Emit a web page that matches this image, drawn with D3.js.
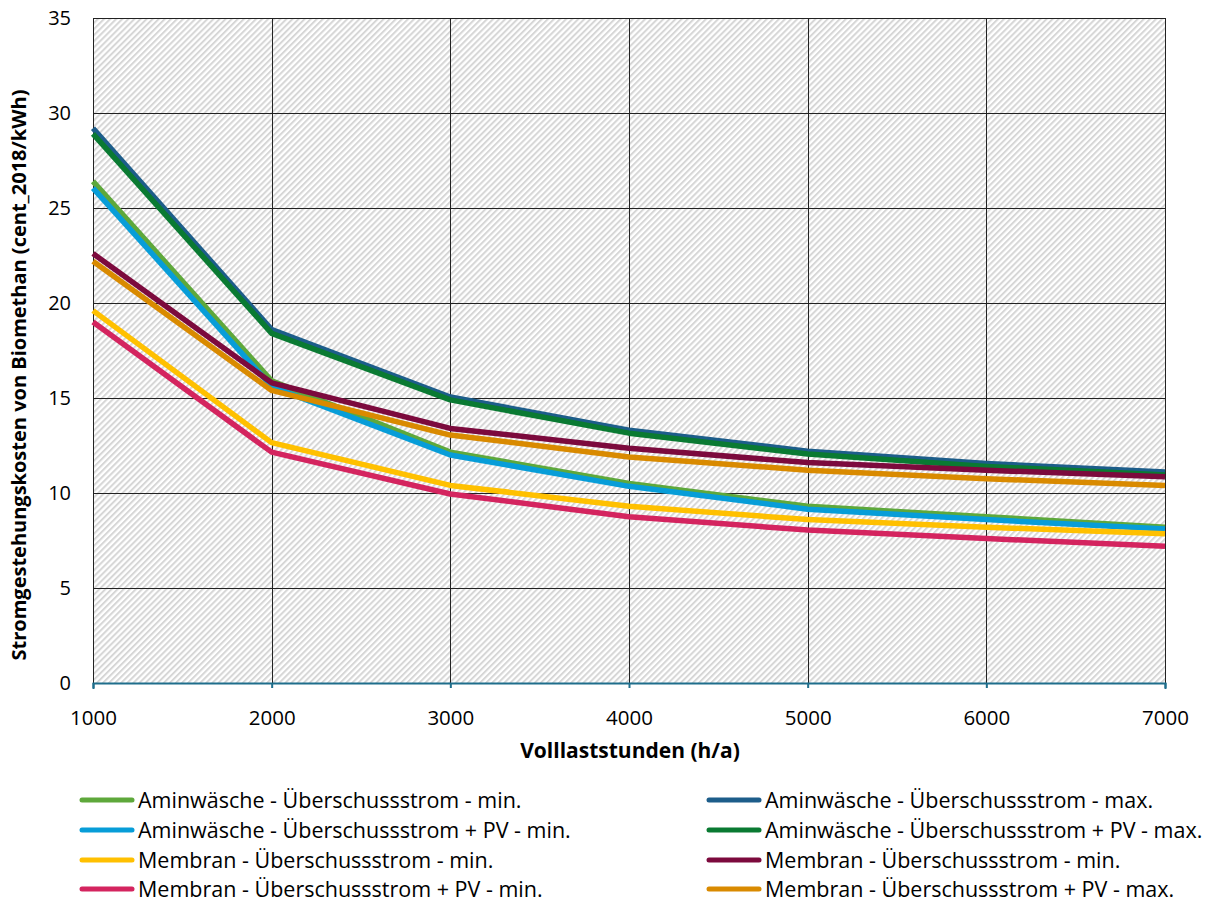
<!DOCTYPE html>
<html><head><meta charset="utf-8">
<script src="https://cdn.jsdelivr.net/npm/d3@7"></script>
<style>body{margin:0;background:#fff}svg{display:block}text{font-family:"Open Sans","Noto Sans",sans-serif;fill:#000}</style>
</head><body>
<script>
const xValues = [1000, 2000, 3000, 4000, 5000, 6000, 7000];
const yTicks = [0, 5, 10, 15, 20, 25, 30, 35];
const seriesNames = [
  "Aminwäsche - Überschussstrom - min.",
  "Aminwäsche - Überschussstrom - max.",
  "Aminwäsche - Überschussstrom + PV - min.",
  "Aminwäsche - Überschussstrom + PV - max.",
  "Membran - Überschussstrom - min.",
  "Membran - Überschussstrom - min.",
  "Membran - Überschussstrom + PV - min.",
  "Membran - Überschussstrom + PV - max."
];
const seriesColors = ["#5EA83B", "#1D5D8A", "#079DD8", "#0A7A32", "#FFC000", "#7C0A3D", "#D4245F", "#D98A00"];
const aminMin     = [26.4, 15.9, 12.15, 10.5, 9.3, 8.75, 8.2];
const aminMax     = [29.2, 18.6, 15.05, 13.3, 12.2, 11.55, 11.1];
const aminPvMin   = [26.05, 15.6, 12.0, 10.35, 9.15, 8.6, 8.1];
const aminPvMax   = [28.9, 18.4, 14.9, 13.15, 12.05, 11.4, 10.95];
const membMin     = [19.6, 12.65, 10.4, 9.3, 8.6, 8.2, 7.85];
const membMin2    = [22.6, 15.8, 13.4, 12.35, 11.6, 11.2, 10.85];
const membPvMin   = [19.0, 12.15, 9.95, 8.75, 8.05, 7.6, 7.2];
const membPvMax   = [22.2, 15.4, 13.05, 11.9, 11.2, 10.75, 10.4];
const seriesValues = [aminMin, aminMax, aminPvMin, aminPvMax, membMin, membMin2, membPvMin, membPvMax];
// draw order (bottom to top)
const drawOrder = [0, 2, 1, 3, 5, 7, 4, 6];

const W = 1217, H = 904;
const m = {left: 93, right: 1165, top: 18, bottom: 683};
const svg = d3.select("body").append("svg").attr("width", W).attr("height", H);
const x = d3.scaleLinear().domain([1000, 7000]).range([m.left, m.right]);
const y = d3.scaleLinear().domain([0, 35]).range([m.bottom, m.top]);

const defs = svg.append("defs");
const pw = 4.3;
const pat = defs.append("pattern").attr("id", "hatch").attr("patternUnits", "userSpaceOnUse")
  .attr("width", pw).attr("height", pw).attr("patternTransform", "rotate(45)");
pat.append("rect").attr("width", pw).attr("height", pw).attr("fill", "#ffffff");
pat.append("rect").attr("x", 0).attr("width", 2).attr("height", pw).attr("fill", "#d6d6d6");

svg.append("rect").attr("x", m.left).attr("y", m.top).attr("width", m.right - m.left).attr("height", m.bottom - m.top)
  .attr("fill", "url(#hatch)");

// grid
svg.append("g").selectAll("line").data(yTicks).join("line")
  .attr("x1", m.left).attr("x2", m.right).attr("y1", d => Math.round(y(d)) + 0.5).attr("y2", d => Math.round(y(d)) + 0.5)
  .attr("stroke", "#222").attr("stroke-width", 1);
svg.append("g").selectAll("line").data(xValues).join("line")
  .attr("y1", m.top).attr("y2", m.bottom).attr("x1", d => Math.round(x(d)) + 0.5).attr("x2", d => Math.round(x(d)) + 0.5)
  .attr("stroke", "#222").attr("stroke-width", 1);

// y axis labels
svg.append("g").selectAll("text").data(yTicks).join("text")
  .attr("x", 71).attr("y", d => y(d)).attr("dy", "0.35em").attr("text-anchor", "end")
  .attr("font-size", 20).text(d => d);

// x axis
const xAxis = d3.axisBottom(x).tickValues(xValues).tickSize(6).tickPadding(21).tickFormat(d3.format("d"));
const gx = svg.append("g").attr("transform", `translate(0,${m.bottom})`).call(xAxis);
gx.select(".domain").attr("stroke", "#1F6E8C").attr("stroke-width", 2);
gx.selectAll(".tick line").attr("stroke", "#1F6E8C").attr("stroke-width", 2).attr("y1", 0).attr("y2", 5);
gx.selectAll(".tick text").attr("font-size", 20.5).attr("font-family", "'Open Sans','Noto Sans',sans-serif").attr("fill", "#000");

// lines
const line = d3.line().x((d, i) => x(xValues[i])).y(d => y(d));
svg.append("g").selectAll("path").data(drawOrder).join("path")
  .attr("d", i => line(seriesValues[i])).attr("fill", "none")
  .attr("stroke", i => seriesColors[i]).attr("stroke-width", 5.5).attr("stroke-linejoin", "round");

// titles
svg.append("text").attr("x", 630).attr("y", 758).attr("text-anchor", "middle")
  .attr("font-size", 21).attr("font-weight", "bold").text("Volllaststunden (h/a)");
svg.append("text").attr("transform", `translate(26,375) rotate(-90)`)
  .attr("text-anchor", "middle").attr("font-size", 20).attr("font-weight", "bold")
  .text("Stromgestehungskosten von Biomethan (cent_2018/kWh)");

// legend
const legendCols = [[0, 2, 4, 6], [1, 3, 5, 7]];
const colX = [80, 707];
const rowY = [800, 830, 860, 889];
legendCols.forEach((col, c) => {
  const g = svg.append("g");
  col.forEach((si, r) => {
    g.append("line").attr("x1", colX[c] + 2).attr("x2", colX[c] + 52).attr("y1", rowY[r]).attr("y2", rowY[r])
      .attr("stroke", seriesColors[si]).attr("stroke-width", 5).attr("stroke-linecap", "round");
    g.append("text").attr("x", colX[c] + 58).attr("y", rowY[r]).attr("dy", "0.35em")
      .attr("font-size", 21.5).text(seriesNames[si]);
  });
});
</script>
</body></html>
